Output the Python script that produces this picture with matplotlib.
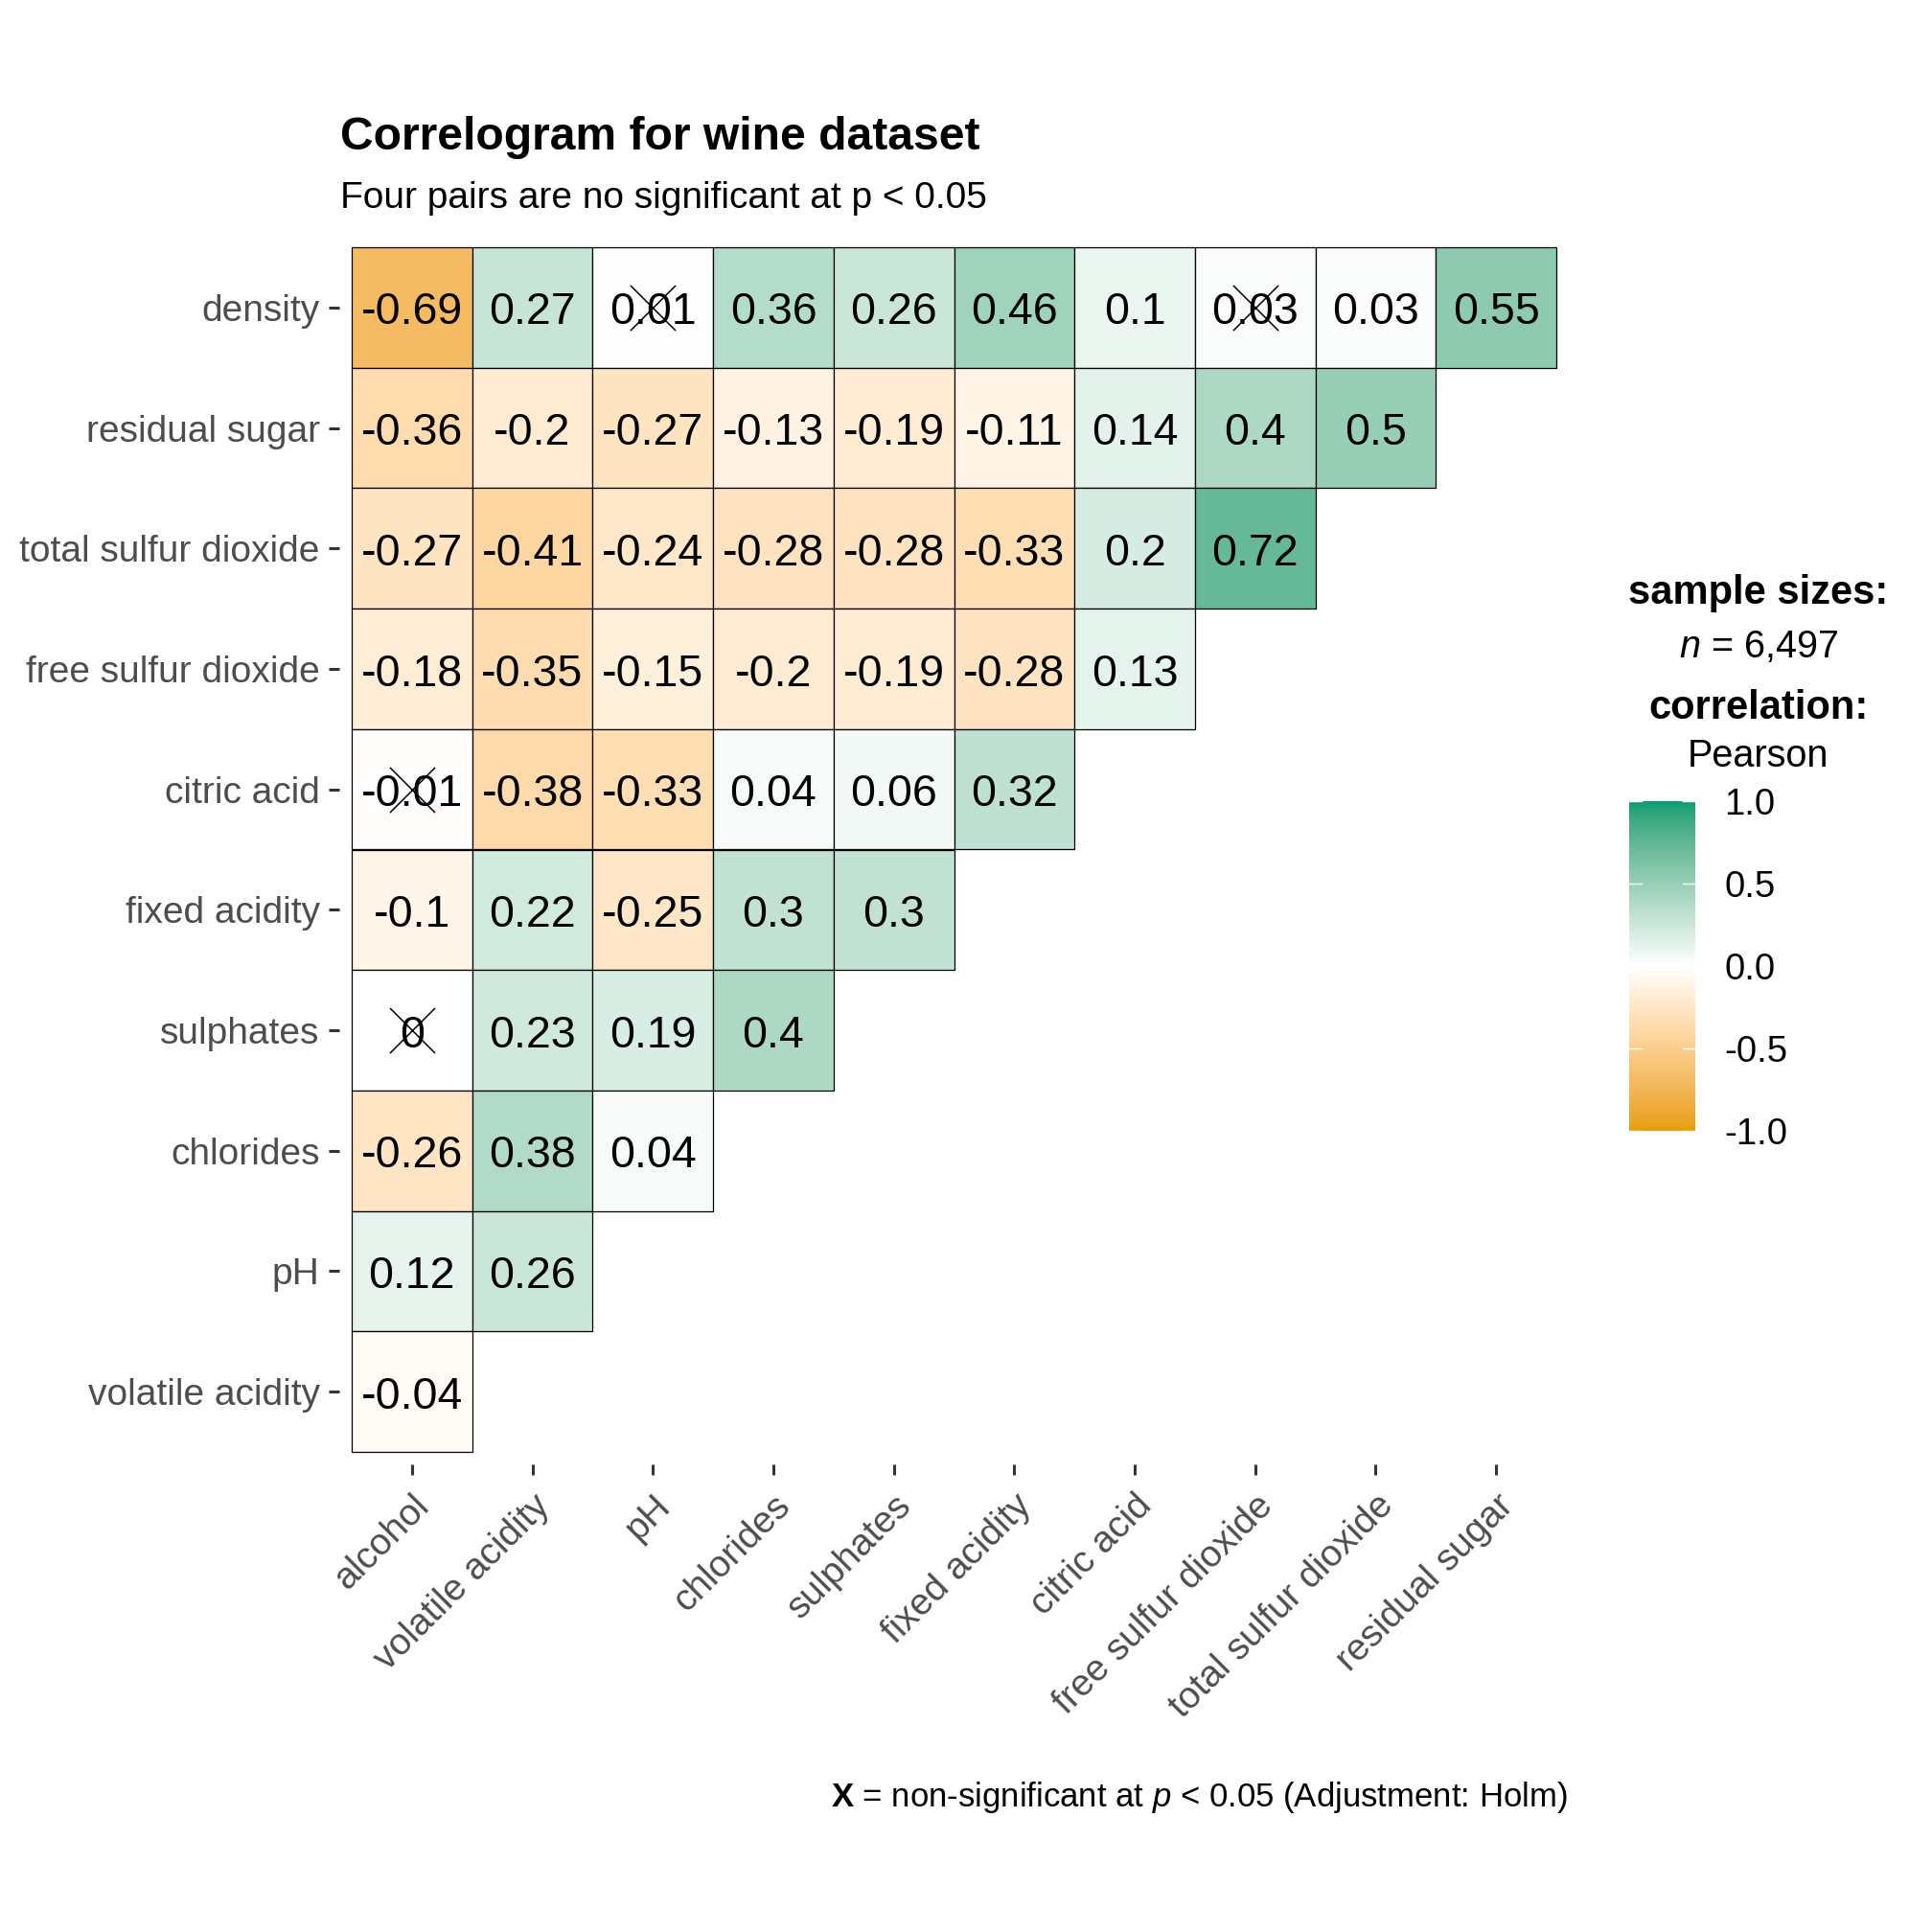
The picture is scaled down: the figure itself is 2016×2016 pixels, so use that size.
import numpy as np
import matplotlib
matplotlib.use("Agg")
import matplotlib.pyplot as plt
from matplotlib.colors import ListedColormap, Normalize
from matplotlib.patches import Rectangle
from matplotlib.cm import ScalarMappable
import matplotlib.transforms as mtransforms

plt.rcParams['font.family'] = ['Liberation Sans', 'DejaVu Sans']
plt.rcParams['mathtext.fontset'] = 'custom'
plt.rcParams['mathtext.rm'] = 'Liberation Sans'
plt.rcParams['mathtext.it'] = 'Liberation Sans:italic'
plt.rcParams['mathtext.bf'] = 'Liberation Sans:bold'
plt.rcParams['axes.unicode_minus'] = False

# ---------------- data ----------------
row_labels = ["density", "residual sugar", "total sulfur dioxide", "free sulfur dioxide",
              "citric acid", "fixed acidity", "sulphates", "chlorides", "pH", "volatile acidity"]
col_labels = ["alcohol", "volatile acidity", "pH", "chlorides", "sulphates", "fixed acidity",
              "citric acid", "free sulfur dioxide", "total sulfur dioxide", "residual sugar"]

corr_density = [-0.69, 0.27, 0.01, 0.36, 0.26, 0.46, 0.1, 0.03, 0.03, 0.55]
corr_residual_sugar = [-0.36, -0.2, -0.27, -0.13, -0.19, -0.11, 0.14, 0.4, 0.5]
corr_total_sulfur = [-0.27, -0.41, -0.24, -0.28, -0.28, -0.33, 0.2, 0.72]
corr_free_sulfur = [-0.18, -0.35, -0.15, -0.2, -0.19, -0.28, 0.13]
corr_citric_acid = [-0.01, -0.38, -0.33, 0.04, 0.06, 0.32]
corr_fixed_acidity = [-0.1, 0.22, -0.25, 0.3, 0.3]
corr_sulphates = [0.0, 0.23, 0.19, 0.4]
corr_chlorides = [-0.26, 0.38, 0.04]
corr_pH = [0.12, 0.26]
corr_volatile_acidity = [-0.04]

corr_rows = [corr_density, corr_residual_sugar, corr_total_sulfur, corr_free_sulfur,
             corr_citric_acid, corr_fixed_acidity, corr_sulphates, corr_chlorides,
             corr_pH, corr_volatile_acidity]

# non-significant pairs (row label, column label)
nonsig_pairs = [("density", "pH"), ("density", "free sulfur dioxide"),
                ("citric acid", "alcohol"), ("sulphates", "alcohol")]

colorbar_ticks = [-1.0, -0.5, 0.0, 0.5, 1.0]
low_col, mid_col, high_col = "#E69F00", "#FFFFFF", "#009E73"

title = "Correlogram for wine dataset"
subtitle = "Four pairs are no significant at p < 0.05"
caption = r"$\mathbf{X}$ = non-significant at $\mathit{p}$ < 0.05 (Adjustment: Holm)"
n_text = r"$\mathit{n}$ = 6,497"

# ---------------- Lab colour ramp (like ggplot gradient2) ----------------
def hex2rgb(h):
    h = h.lstrip('#')
    return np.array([int(h[i:i + 2], 16) / 255 for i in (0, 2, 4)])

def srgb_to_lab(c):
    c = np.where(c <= 0.04045, c / 12.92, ((c + 0.055) / 1.055) ** 2.4)
    M = np.array([[0.4124, 0.3576, 0.1805], [0.2126, 0.7152, 0.0722], [0.0193, 0.1192, 0.9505]])
    xyz = M @ c
    wp = np.array([0.95047, 1.0, 1.08883])
    t = xyz / wp
    f = np.where(t > (6 / 29) ** 3, np.cbrt(t), t / (3 * (6 / 29) ** 2) + 4 / 29)
    return np.array([116 * f[1] - 16, 500 * (f[0] - f[1]), 200 * (f[1] - f[2])])

def lab_to_srgb(lab):
    L, a, b = lab
    fy = (L + 16) / 116
    fx = fy + a / 500
    fz = fy - b / 200
    f = np.array([fx, fy, fz])
    t = np.where(f > 6 / 29, f ** 3, 3 * (6 / 29) ** 2 * (f - 4 / 29))
    xyz = t * np.array([0.95047, 1.0, 1.08883])
    Minv = np.array([[3.2406, -1.5372, -0.4986], [-0.9689, 1.8758, 0.0415], [0.0557, -0.2040, 1.0570]])
    c = Minv @ xyz
    c = np.where(c <= 0.0031308, 12.92 * c, 1.055 * np.clip(c, 0, None) ** (1 / 2.4) - 0.055)
    return np.clip(c, 0, 1)

lab_lo, lab_mid, lab_hi = (srgb_to_lab(hex2rgb(h)) for h in (low_col, mid_col, high_col))
ramp = []
for t in np.linspace(0, 1, 256):
    if t < 0.5:
        s = t / 0.5
        lab = lab_lo + (lab_mid - lab_lo) * s
    else:
        s = (t - 0.5) / 0.5
        lab = lab_mid + (lab_hi - lab_mid) * s
    ramp.append(lab_to_srgb(lab))
cmap = ListedColormap(ramp)
norm = Normalize(vmin=-1, vmax=1)

# ---------------- figure ----------------
W = 2016
fig = plt.figure(figsize=(20.16, 20.16), dpi=100)

def px(x, y):
    return x / W, 1 - y / W

p_left, p_right, p_top, p_bottom = 354.4, 1636.6, 245.4, 1527.6
ax = fig.add_axes([p_left / W, 1 - p_bottom / W, (p_right - p_left) / W, (p_bottom - p_top) / W])
ax.set_xlim(0.4, len(col_labels) + 0.6)
ax.set_ylim(len(row_labels) + 0.6, 0.4)

for i, row in enumerate(corr_rows):
    for j, v in enumerate(row):
        ax.add_patch(Rectangle((j + 0.5, i + 0.5), 1, 1, facecolor=cmap(norm(v)),
                               edgecolor='black', linewidth=0.9, zorder=1))
        ax.text(j + 1, i + 1.045, f"{v:g}", ha='center', va='center', fontsize=33.5,
                color='black', zorder=3)

nx = [col_labels.index(c) + 1 for r, c in nonsig_pairs]
ny = [row_labels.index(r) + 1 for r, c in nonsig_pairs]
ax.scatter(nx, ny, marker='x', s=1150, c='black', linewidths=1.1, zorder=4)

for s in ax.spines.values():
    s.set_visible(False)
ax.set_xticks(range(1, len(col_labels) + 1))
ax.set_yticks(range(1, len(row_labels) + 1))
ax.set_yticklabels(row_labels, fontsize=28, color='#4D4D4D')
ax.set_xticklabels(col_labels, fontsize=28, color='#4D4D4D', rotation=45,
                   rotation_mode='anchor', ha='right', va='top')
ax.tick_params(axis='both', length=7.9, width=2.2, color='#333333')
ax.tick_params(axis='y', pad=7)
ax.tick_params(axis='x', pad=9)
offset = mtransforms.ScaledTranslation(0.0, -0.02, fig.dpi_scale_trans)
for lab in ax.get_xticklabels():
    lab.set_transform(lab.get_transform() + offset)

# titles
fig.text(*px(355, 143), title, fontsize=34.6, fontweight='bold', ha='left', va='center')
fig.text(*px(355, 207), subtitle, fontsize=28, ha='left', va='center')
fig.text(*px(1636, 1875), caption, fontsize=25, ha='right', va='center')

# legend
lx = 1835
fig.text(*px(lx, 619), "sample sizes:", fontsize=30, fontweight='bold', ha='center', va='center')
fig.text(*px(lx, 675), n_text, fontsize=28.5, ha='center', va='center')
fig.text(*px(lx, 739), "correlation:", fontsize=30, fontweight='bold', ha='center', va='center')
fig.text(*px(lx, 789), "Pearson", fontsize=28.5, ha='center', va='center')

cb_l, cb_r, cb_t, cb_b = 1700, 1769, 836, 1180
cax = fig.add_axes([cb_l / W, 1 - cb_b / W, (cb_r - cb_l) / W, (cb_b - cb_t) / W])
cb = fig.colorbar(ScalarMappable(norm=norm, cmap=cmap), cax=cax, ticks=colorbar_ticks)
cb.outline.set_visible(False)
cb.ax.set_yticklabels([f"{t:.1f}" for t in colorbar_ticks])
cb.ax.tick_params(length=0, pad=22, labelsize=27.5)
for t in colorbar_ticks:
    cax.plot([0, 0.19], [t, t], color='white', lw=1.0, transform=cax.get_yaxis_transform())
    cax.plot([0.81, 1], [t, t], color='white', lw=1.0, transform=cax.get_yaxis_transform())

fig.savefig("out.png", dpi=100, facecolor='white')
